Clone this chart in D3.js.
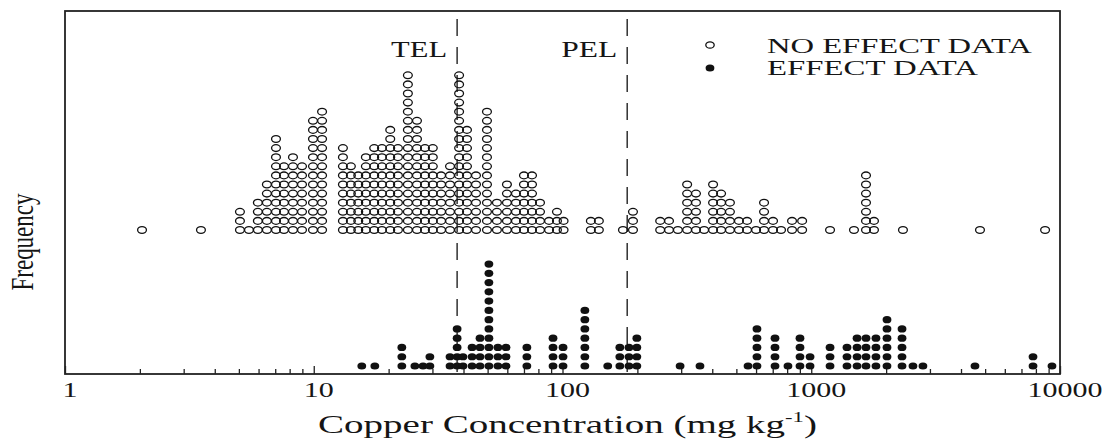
<!DOCTYPE html>
<html>
<head>
<script src="https://d3js.org/d3.v7.min.js"></script>
<style>
  body { margin: 0; background: #fff; }
  text { font-family: "Liberation Serif", "DejaVu Serif", serif; fill: #151515; }
</style>
</head>
<body>
<script>

var w = 1110, h = 441;

// no effect data: column concentration (mg/kg) and number of stacked points
var noEffectConc = [2.04, 3.52, 5.05, 5.49, 5.96, 6.48, 7.05, 7.59, 8.25, 8.97, 9.93, 10.8,
  13.1, 14.1, 15.1, 16.2, 17.5, 18.8, 20.3, 21.8, 23.9, 26.0, 28.0, 30.1, 32.5, 35.3,
  38.4, 41.3, 44.9, 49.7, 54.5, 59.8, 65.0, 70.0, 75.4, 81.2, 88.3, 95.0, 101,
  130, 140, 175, 192, 247, 268, 291, 317, 344, 371, 403, 434, 471, 512, 552, 600,
  646, 702, 756, 837, 919, 1190, 1485, 1660, 1787, 2337, 4768, 8710];
var noEffectCount = [1, 1, 3, 1, 4, 6, 11, 8, 9, 8, 13, 14,
  10, 8, 7, 9, 10, 10, 12, 10, 18, 13, 10, 10, 7, 8,
  18, 12, 7, 14, 4, 6, 5, 7, 7, 4, 2, 3, 2,
  2, 2, 1, 3, 2, 2, 1, 6, 5, 1, 6, 5, 4, 2, 2, 1,
  4, 2, 1, 2, 2, 1, 1, 7, 2, 1, 1, 1];

// effect data
var effectConc = [15.6, 17.6, 22.6, 25.5, 27.5, 29.3, 35.3, 37.7, 39.8, 43.3, 46.6, 50.6,
  55.0, 59.3, 71.9, 91.6, 100.5, 123, 152, 170, 185, 199, 297, 357, 557, 605,
  715, 806, 901, 989, 1190, 1392, 1528, 1660, 1820, 2016, 2317, 2564, 2812,
  4552, 7790, 9285];
var effectCount = [1, 1, 3, 1, 1, 2, 2, 5, 2, 3, 4, 12,
  3, 3, 3, 4, 3, 7, 1, 3, 3, 4, 1, 1, 1, 5,
  4, 1, 4, 2, 3, 3, 4, 4, 4, 6, 5, 1, 1,
  1, 2, 1];

var guideNames = ["TEL", "PEL"];
var guideValues = [37.7, 182];

var tickLabels = [1, 10, 100, 1000, 10000];

var svg = d3.select("body").append("svg").attr("width", w).attr("height", h);

var plotL = 65, plotR = 1060, plotT = 11, plotB = 374;

var x = d3.scaleLog().domain([1, 10000]).range([plotL, plotR]);
var yOpen = d3.scaleLinear().domain([0, 20]).range([230, 230 - 20 * 9.1]);
var yFill = d3.scaleLinear().domain([0, 12]).range([366, 366 - 12 * 9.27]);

// stretched text helper (the scan is wider than it is tall)
function label(str, x0, y0, width, size) {
  var g = svg.append("g").attr("transform", "translate(" + x0 + "," + y0 + ")");
  var t = g.append("text").attr("font-size", size).text(str);
  var nat = t.node().getComputedTextLength();
  t.attr("transform", "scale(" + (width / nat) + ",1)");
  return t;
}

// frame
svg.append("rect").attr("x", plotL).attr("y", plotT)
  .attr("width", plotR - plotL).attr("height", plotB - plotT)
  .attr("fill", "none").attr("stroke", "#222").attr("stroke-width", 1.8);

// minor + major ticks, pointing inward
var minor = x.ticks().filter(function(d){ return tickLabels.indexOf(d) < 0; });
svg.append("g").attr("transform", "translate(0," + plotB + ")")
  .call(d3.axisBottom(x).tickValues(minor).tickSize(-5).tickFormat(""))
  .call(function(g){ g.select(".domain").remove(); g.selectAll("line").attr("stroke", "#222").attr("stroke-width", 1.3); });
svg.append("g").attr("transform", "translate(0," + plotB + ")")
  .call(d3.axisBottom(x).tickValues(tickLabels).tickSize(-8).tickFormat(""))
  .call(function(g){ g.select(".domain").remove(); g.selectAll("line").attr("stroke", "#222").attr("stroke-width", 1.3); });

tickLabels.forEach(function(v){
  var s = String(v);
  var wd = s.length * 15;
  label(s, x(v) + 5 - wd / 2, 397, wd, 20);
});

// guideline dashed lines
guideValues.forEach(function(v, i){
  svg.append("line").attr("x1", x(v)).attr("x2", x(v)).attr("y1", plotT + 8).attr("y2", plotB)
    .attr("stroke", "#222").attr("stroke-width", 1.4).attr("stroke-dasharray", "17,11");
  label(guideNames[i], x(v) - 66, 57, 56, 23);
});

// open circles
var openPts = [];
noEffectConc.forEach(function(c, i){
  for (var k = 0; k < noEffectCount[i]; k++) openPts.push({conc: c, k: k});
});
svg.append("g").selectAll("ellipse").data(openPts).enter().append("ellipse")
  .attr("cx", function(d){ return x(d.conc); })
  .attr("cy", function(d){ return yOpen(d.k); })
  .attr("rx", 4.4).attr("ry", 3.4)
  .attr("fill", "none").attr("stroke", "#111").attr("stroke-width", 1.3);

// filled dots
var fillPts = [];
effectConc.forEach(function(c, i){
  for (var k = 0; k < effectCount[i]; k++) fillPts.push({conc: c, k: k});
});
svg.append("g").selectAll("ellipse").data(fillPts).enter().append("ellipse")
  .attr("cx", function(d){ return x(d.conc); })
  .attr("cy", function(d){ return yFill(d.k); })
  .attr("rx", 4.4).attr("ry", 3.6)
  .attr("fill", "#111");

// legend
svg.append("ellipse").attr("cx", 710).attr("cy", 45).attr("rx", 4.2).attr("ry", 3.2)
  .attr("fill", "none").attr("stroke", "#111").attr("stroke-width", 1.3);
svg.append("ellipse").attr("cx", 710).attr("cy", 68).attr("rx", 4.4).attr("ry", 3.6).attr("fill", "#111");
label("NO EFFECT DATA", 767, 53, 265, 21);
label("EFFECT DATA", 767, 75, 211, 21);

// x axis title with superscript
var tg = svg.append("g").attr("transform", "translate(318,433)");
var tt = tg.append("text").attr("font-size", 26);
tt.append("tspan").text("Copper Concentration (mg kg");
tt.append("tspan").attr("font-size", 15).attr("dy", -11).text("-1");
tt.append("tspan").attr("dy", 11).text(")");
var tw = tt.node().getBBox().width;
tt.attr("transform", "scale(" + (499 / tw) + ",1)");

// y axis title
svg.append("text").attr("font-size", 23).attr("text-anchor", "middle")
  .attr("transform", "translate(33,242) rotate(-90) scale(1,1.35)")
  .text("Frequency");

</script>
</body>
</html>
